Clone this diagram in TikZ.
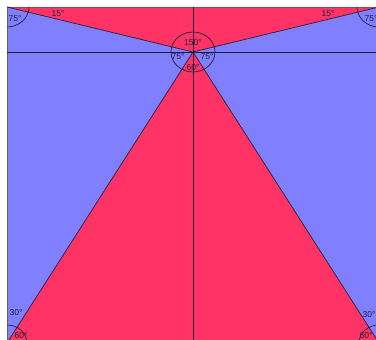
\documentclass[tikz,border=0pt]{standalone}
\usepackage{fontspec}
\setmainfont{Liberation Sans}
\definecolor{bluefill}{RGB}{128,128,255}
\definecolor{redfill}{RGB}{255,51,102}
\definecolor{ink}{RGB}{30,30,60}
\begin{document}
\begin{tikzpicture}[x=1pt,y=1pt,
  geo/.style={draw=ink,line width=0.7pt},
  anglearc/.style={draw=ink,line width=0.7pt},
  lbl/.style={text=ink,font=\fontsize{8.5}{9}\selectfont,inner sep=0pt}]
\useasboundingbox (0,0) rectangle (376,340);
\clip (0,0) rectangle (376,340);
\coordinate (A) at (7,333);
\coordinate (B) at (379,333);
\coordinate (C) at (379,-3);
\coordinate (D) at (7,-3);
\coordinate (E) at (193,288);
\coordinate (L) at (7,288);
\coordinate (R) at (379,288);
\coordinate (T) at (193,333);
\coordinate (M) at (193,-3);
% fills
\fill[bluefill] (A) -- (B) -- (C) -- (D) -- cycle;
\fill[redfill] (A) -- (B) -- (E) -- cycle;
\fill[redfill] (D) -- (C) -- (E) -- cycle;
% lines
\draw[gray!70!ink,line width=0.7pt] (A) -- (B) -- (C) -- (D) -- cycle;
\draw[geo] (A) -- (E) -- (B);
\draw[geo] (D) -- (E) -- (C);
\draw[geo] (L) -- (R);
\draw[geo] (T) -- (M);
% angle arcs
\draw[anglearc] (A) ++(0,-20) arc[start angle=-90,end angle=0,x radius=22,y radius=20];
\draw[anglearc] (B) ++(-22,0) arc[start angle=180,end angle=270,x radius=22,y radius=20];
\draw[anglearc] (E) ellipse[x radius=22,y radius=20];
\draw[anglearc] (D) ++(0,18) arc[start angle=90,end angle=0,x radius=20,y radius=18];
\draw[anglearc] (C) ++(0,18) arc[start angle=90,end angle=180,x radius=20,y radius=18];
% labels
\node[lbl] (l15a) at (58,326) {15°};
\node[lbl] (l15b) at (328,326) {15°};
\node[lbl] (l75a) at (15,321) {75°};
\node[lbl] (l75b) at (371,321) {75°};
\node[lbl] (l150) at (193,297) {150°};
\node[lbl] (l75c) at (178,283) {75°};
\node[lbl] (l75d) at (207,283) {75°};
\node[lbl] (l60a) at (193,272) {60°};
\node[lbl] (l30a) at (16,27) {30°};
\node[lbl] (l60b) at (21,4) {60°};
\node[lbl] (l30b) at (369,25) {30°};
\node[lbl] (l60c) at (366,4) {60°};
\end{tikzpicture}
\end{document}
